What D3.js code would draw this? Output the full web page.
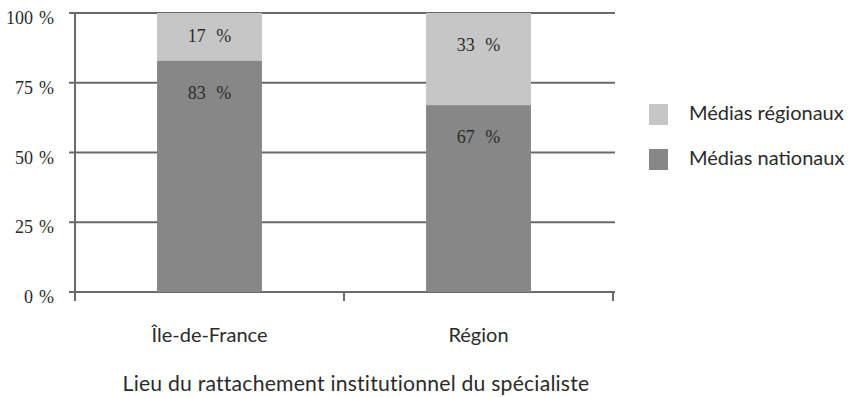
<!DOCTYPE html>
<html>
<head>
<meta charset="utf-8">
<script src="https://cdn.jsdelivr.net/npm/d3@7"></script>
<style>
  html, body { margin: 0; padding: 0; background: #fff; }
  svg { display: block; }
</style>
</head>
<body>
<svg id="chart" width="850" height="397"></svg>
<script>
// Share of media type by the specialist's institutional location
const categories = ["Île-de-France", "Région"];
const nationaux = [83, 67];
const regionaux = [17, 33];
const seriesNames = ["Médias nationaux", "Médias régionaux"];
const yTicks = [0, 25, 50, 75, 100];
const axisTitle = "Lieu du rattachement institutionnel du spécialiste";

const colors = { "Médias nationaux": "#878787", "Médias régionaux": "#c6c6c6" };
const gridColor = "#6a6a6a";
const textColor = "#2b2b2b";
const serif = "'Liberation Serif', 'DejaVu Serif', serif";
const sans = "Lato, 'Open Sans', sans-serif";

const svg = d3.select("#chart");
const margin = { left: 75, right: 237, top: 13, bottom: 105 };
const W = 850, H = 397;

const x = d3.scaleBand().domain(categories).range([margin.left, W - margin.right]).paddingInner(0.61).paddingOuter(0.305);
const y = d3.scaleLinear().domain([0, 100]).range([H - margin.bottom, margin.top]);

const rows = categories.map((c, i) => ({ cat: c, "Médias nationaux": nationaux[i], "Médias régionaux": regionaux[i] }));
const stacked = d3.stack().keys(seriesNames)(rows);

// horizontal gridlines with short ticks on the left
const grid = svg.append("g");
grid.selectAll("line").data(yTicks).join("line")
  .attr("x1", margin.left - 6).attr("x2", W - margin.right + 2)
  .attr("y1", d => y(d)).attr("y2", d => y(d))
  .attr("stroke", gridColor).attr("stroke-width", 2);

// y tick labels
svg.append("g").selectAll("text").data(yTicks).join("text")
  .attr("x", margin.left - 21).attr("y", d => y(d) + 7)
  .attr("text-anchor", "end").attr("dominant-baseline", "middle")
  .attr("font-family", serif).attr("font-size", 18).attr("fill", textColor)
  .text(d => d + "\u00a0\u200a%");

// stacked bars
const layers = svg.append("g").selectAll("g").data(stacked).join("g")
  .attr("fill", d => colors[d.key]);
layers.selectAll("rect").data(d => d).join("rect")
  .attr("x", d => x(d.data.cat))
  .attr("width", x.bandwidth())
  .attr("y", d => y(d[1]))
  .attr("height", d => y(d[0]) - y(d[1]));

// value labels in the segments
layers.selectAll("text").data(d => d.map(v => ({ v, key: d.key }))).join("text")
  .attr("x", d => x(d.v.data.cat) + x.bandwidth() / 2)
  .attr("y", d => {
    const top = y(d.v[1]), bot = y(d.v[0]);
    return Math.min(top + 34, (top + bot) / 2 + 1);
  })
  .attr("text-anchor", "middle").attr("dominant-baseline", "middle")
  .attr("font-family", serif).attr("font-size", 18).attr("fill", textColor)
  .text(d => d.v.data[d.key] + "\u2002\u200a%");

// y axis line
svg.append("line")
  .attr("x1", margin.left).attr("x2", margin.left)
  .attr("y1", y(100) - 1).attr("y2", y(0) + 9)
  .attr("stroke", gridColor).attr("stroke-width", 2);

// x axis with ticks between categories
const xAxis = svg.append("g");
const bounds = [margin.left, (margin.left + W - margin.right) / 2, W - margin.right];
xAxis.selectAll("line").data(bounds).join("line")
  .attr("x1", d => d).attr("x2", d => d)
  .attr("y1", y(0)).attr("y2", y(0) + 9)
  .attr("stroke", gridColor).attr("stroke-width", 2);

svg.append("g").selectAll("text").data(categories).join("text")
  .attr("x", d => x(d) + x.bandwidth() / 2).attr("y", 342)
  .attr("text-anchor", "middle")
  .attr("font-family", sans).attr("font-size", 20).attr("fill", textColor)
  .text(d => d);

svg.append("text")
  .attr("x", 356).attr("y", 391)
  .attr("text-anchor", "middle")
  .attr("font-family", sans).attr("font-size", 21.2).attr("letter-spacing", 0.2)
  .attr("fill", textColor)
  .text(axisTitle);

// legend
const legendItems = ["Médias régionaux", "Médias nationaux"];
const lg = svg.append("g").selectAll("g").data(legendItems).join("g")
  .attr("transform", (d, i) => `translate(649, ${104 + i * 45})`);
lg.append("rect").attr("width", 19).attr("height", 21).attr("fill", d => colors[d]);
lg.append("text").attr("x", 40).attr("y", 11)
  .attr("dominant-baseline", "middle")
  .attr("font-family", sans).attr("font-size", 20).attr("fill", textColor)
  .text(d => d);
</script>
</body>
</html>
